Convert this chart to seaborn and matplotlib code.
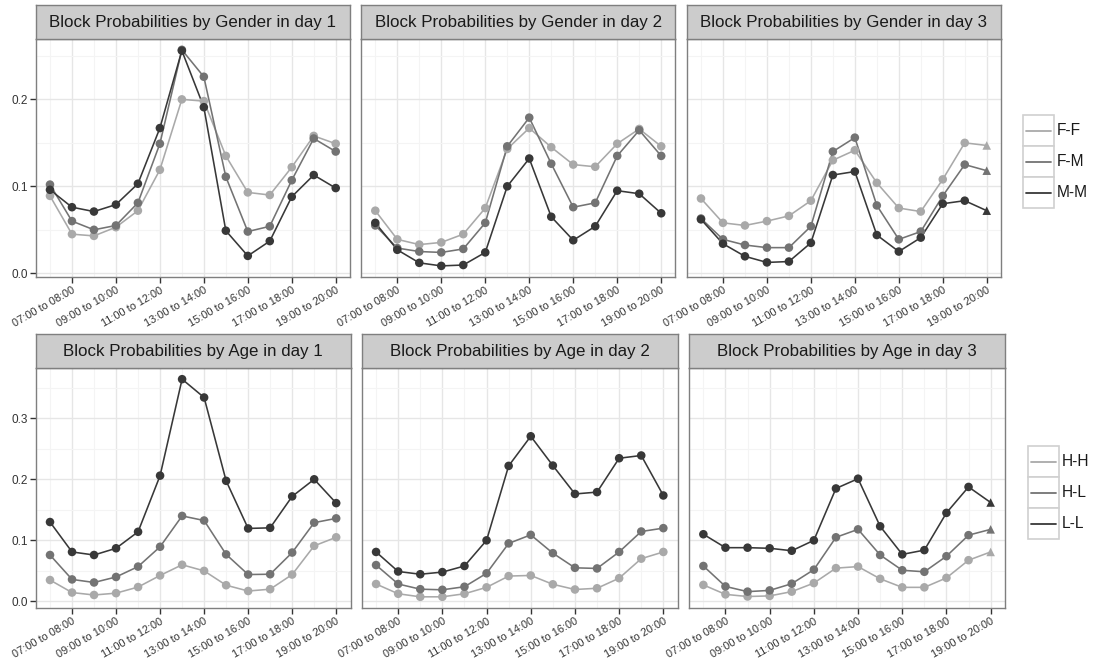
import numpy as np
import pandas as pd
import matplotlib
matplotlib.use("Agg")
import matplotlib.pyplot as plt
from matplotlib.patches import Rectangle
from matplotlib.lines import Line2D
import seaborn as sns

sns.set_theme(style="white")
plt.rcParams["font.family"] = ["Liberation Sans", "DejaVu Sans"]

# ---- data -------------------------------------------------------------
blocks = list(range(1, 15))
tick_blocks = [2, 4, 6, 8, 10, 12, 14]
tick_labels = ["07:00 to 08:00", "09:00 to 10:00", "11:00 to 12:00",
               "13:00 to 14:00", "15:00 to 16:00", "17:00 to 18:00",
               "19:00 to 20:00"]
days = [1, 2, 3]

gender_groups = ["F-F", "F-M", "M-M"]
gender_day1 = {
    "F-F": [0.089, 0.045, 0.043, 0.053, 0.072, 0.119, 0.200, 0.198, 0.135, 0.093, 0.090, 0.122, 0.158, 0.149],
    "F-M": [0.102, 0.060, 0.050, 0.055, 0.081, 0.149, 0.257, 0.226, 0.111, 0.048, 0.054, 0.107, 0.155, 0.140],
    "M-M": [0.096, 0.076, 0.071, 0.079, 0.103, 0.167, 0.256, 0.191, 0.049, 0.020, 0.037, 0.088, 0.113, 0.098],
}
gender_day2 = {
    "F-F": [0.072, 0.039, 0.033, 0.0355, 0.045, 0.075, 0.143, 0.167, 0.145, 0.125, 0.1225, 0.149, 0.166, 0.146],
    "F-M": [0.055, 0.029, 0.025, 0.024, 0.028, 0.058, 0.146, 0.179, 0.126, 0.076, 0.081, 0.135, 0.1645, 0.135],
    "M-M": [0.058, 0.027, 0.012, 0.0085, 0.0095, 0.024, 0.100, 0.132, 0.065, 0.038, 0.054, 0.095, 0.0915, 0.069],
}
gender_day3 = {
    "F-F": [0.086, 0.058, 0.055, 0.060, 0.066, 0.0835, 0.130, 0.1415, 0.104, 0.075, 0.071, 0.108, 0.150, 0.147],
    "F-M": [0.063, 0.039, 0.0325, 0.0295, 0.0295, 0.054, 0.140, 0.156, 0.078, 0.039, 0.048, 0.089, 0.125, 0.118],
    "M-M": [0.062, 0.034, 0.0195, 0.0125, 0.0135, 0.035, 0.113, 0.117, 0.044, 0.025, 0.041, 0.080, 0.0835, 0.072],
}

age_groups = ["H-H", "H-L", "L-L"]
age_day1 = {
    "H-H": [0.035, 0.0145, 0.0105, 0.0135, 0.0235, 0.0425, 0.060, 0.050, 0.0265, 0.017, 0.020, 0.044, 0.091, 0.105],
    "H-L": [0.076, 0.036, 0.031, 0.040, 0.057, 0.0895, 0.140, 0.1325, 0.077, 0.044, 0.0445, 0.080, 0.129, 0.136],
    "L-L": [0.130, 0.081, 0.076, 0.087, 0.114, 0.206, 0.364, 0.334, 0.1975, 0.1195, 0.1205, 0.172, 0.200, 0.161],
}
age_day2 = {
    "H-H": [0.0285, 0.0125, 0.0075, 0.0075, 0.0125, 0.023, 0.0415, 0.0425, 0.028, 0.0195, 0.0215, 0.038, 0.070, 0.081],
    "H-L": [0.0595, 0.0285, 0.020, 0.019, 0.024, 0.046, 0.095, 0.109, 0.079, 0.055, 0.054, 0.081, 0.1145, 0.120],
    "L-L": [0.081, 0.049, 0.0445, 0.048, 0.058, 0.100, 0.222, 0.2705, 0.2225, 0.176, 0.179, 0.2345, 0.239, 0.1735],
}
age_day3 = {
    "H-H": [0.027, 0.0115, 0.008, 0.009, 0.016, 0.030, 0.0545, 0.057, 0.037, 0.023, 0.023, 0.0385, 0.0675, 0.081],
    "H-L": [0.058, 0.0245, 0.016, 0.018, 0.029, 0.052, 0.105, 0.118, 0.076, 0.051, 0.0485, 0.074, 0.1085, 0.118],
    "L-L": [0.110, 0.088, 0.088, 0.087, 0.083, 0.100, 0.185, 0.201, 0.123, 0.077, 0.084, 0.145, 0.1875, 0.162],
}

# the closing block of day 3 is only partly observed
partial_day = 3
partial_block = 14

# ---- styling ----------------------------------------------------------
GREYS = ["#a9a9a9", "#737373", "#383838"]
TEXT = "#333333"
BORDER = "#7f7f7f"
W, H = 1097, 663


def tidy(day_tables, groups):
    rows = []
    for day, table in zip(days, day_tables):
        for g in groups:
            for b, v in zip(blocks, table[g]):
                partial = (day == partial_day and b == partial_block)
                rows.append({"day": day, "block": b, "group": g, "prob": v,
                             "mark": "partial" if partial else "full"})
    return pd.DataFrame(rows)


gender_df = tidy([gender_day1, gender_day2, gender_day3], gender_groups)
age_df = tidy([age_day1, age_day2, age_day3], age_groups)


def ylimits(values):
    lo, hi = min(values), max(values)
    pad = (hi - lo) * 0.05
    return lo - pad, hi + pad


fig = plt.figure(figsize=(W / 100, H / 100), dpi=100)
fig.patch.set_facecolor("white")


def px_axes(x0, y0, x1, y1):
    return fig.add_axes([x0 / W, 1 - y1 / H, (x1 - x0) / W, (y1 - y0) / H])


def draw_row(df, groups, title_word, panel_x, top, bottom, yticks, legend_xy):
    ylim = ylimits(df["prob"].tolist())
    palette = dict(zip(groups, GREYS))
    for i, day in enumerate(days):
        x0, x1 = panel_x[i]
        ax = px_axes(x0, top, x1, bottom)
        sub = df[df["day"] == day]
        ax.set_facecolor("white")
        # grid: major lines at labelled breaks, faint minor lines between
        for xb in blocks:
            major = xb in tick_blocks
            ax.axvline(xb, color="#e6e6e6" if major else "#f4f4f4",
                       lw=1.0 if major else 0.8, zorder=0)
        step = yticks[1] - yticks[0]
        for yv in yticks:
            ax.axhline(yv, color="#e6e6e6", lw=1.0, zorder=0)
            ax.axhline(yv + step / 2, color="#f4f4f4", lw=0.8, zorder=0)
        sns.lineplot(data=sub, x="block", y="prob", hue="group",
                     hue_order=groups, palette=palette, lw=1.15,
                     legend=False, ax=ax, zorder=2)
        sns.scatterplot(data=sub, x="block", y="prob", hue="group",
                        hue_order=groups, palette=palette,
                        style="mark", markers={"full": "o", "partial": "^"},
                        s=38, linewidth=0, legend=False, ax=ax, zorder=3)
        ax.set_xlim(blocks[0] - 0.65, blocks[-1] + 0.65)
        ax.set_ylim(*ylim)
        ax.set_xlabel("")
        ax.set_ylabel("")
        ax.set_xticks(tick_blocks)
        ax.set_xticklabels(tick_labels, rotation=30, ha="right",
                           rotation_mode="anchor")
        ax.set_yticks(yticks)
        ax.tick_params(axis="both", length=4, width=1, color=TEXT,
                       labelcolor=TEXT, direction="out", bottom=True)
        ax.tick_params(axis="x", pad=2, labelsize=7.9)
        if i == 0:
            ax.set_yticklabels([f"{v:.1f}" for v in yticks])
            ax.tick_params(axis="y", pad=1.5, left=True, labelsize=8.5)
        else:
            ax.set_yticklabels([])
            ax.tick_params(axis="y", left=False, length=0)
        for sp in ax.spines.values():
            sp.set_visible(True)
            sp.set_color(BORDER)
            sp.set_linewidth(1.0)
        # facet strip
        strip_h = 34
        sax = px_axes(x0, top - strip_h, x1, top)
        sax.set_xticks([])
        sax.set_yticks([])
        sax.set_facecolor("#cccccc")
        for sp in sax.spines.values():
            sp.set_visible(True)
            sp.set_color(BORDER)
            sp.set_linewidth(1.0)
        sax.text(0.5, 0.48, f"Block Probabilities by {title_word} in day {day}",
                 ha="center", va="center", fontsize=12.2, color="#1a1a1a",
                 transform=sax.transAxes)

    # legend with boxed keys
    lx0, ly0 = legend_xy
    kw, kh = 31, 31
    for j, g in enumerate(groups):
        yk = ly0 + j * kh
        fig.patches.append(Rectangle((lx0 / W, 1 - (yk + kh) / H), kw / W, kh / H,
                                     transform=fig.transFigure, facecolor="white",
                                     edgecolor="#d0d0d0", lw=1.2))
        fig.lines.append(Line2D([(lx0 + 3) / W, (lx0 + kw - 3) / W],
                                [1 - (yk + kh / 2) / H] * 2,
                                transform=fig.transFigure, color=GREYS[j], lw=1.3))
        fig.text((lx0 + kw + 3) / W, 1 - (yk + kh / 2) / H, g, ha="left",
                 va="center", fontsize=11.2, color="#1a1a1a")


draw_row(gender_df, gender_groups, "Gender",
         [(35.7, 350), (361, 675.5), (686.7, 1001)], 39, 276.7,
         [0.0, 0.1, 0.2], (1023, 115))
draw_row(age_df, age_groups, "Age",
         [(35.7, 350.5), (361.7, 677.7), (689, 1005)], 368.3, 607.7,
         [0.0, 0.1, 0.2, 0.3], (1027.5, 446))

fig.savefig("out.png", dpi=100, facecolor="white")
